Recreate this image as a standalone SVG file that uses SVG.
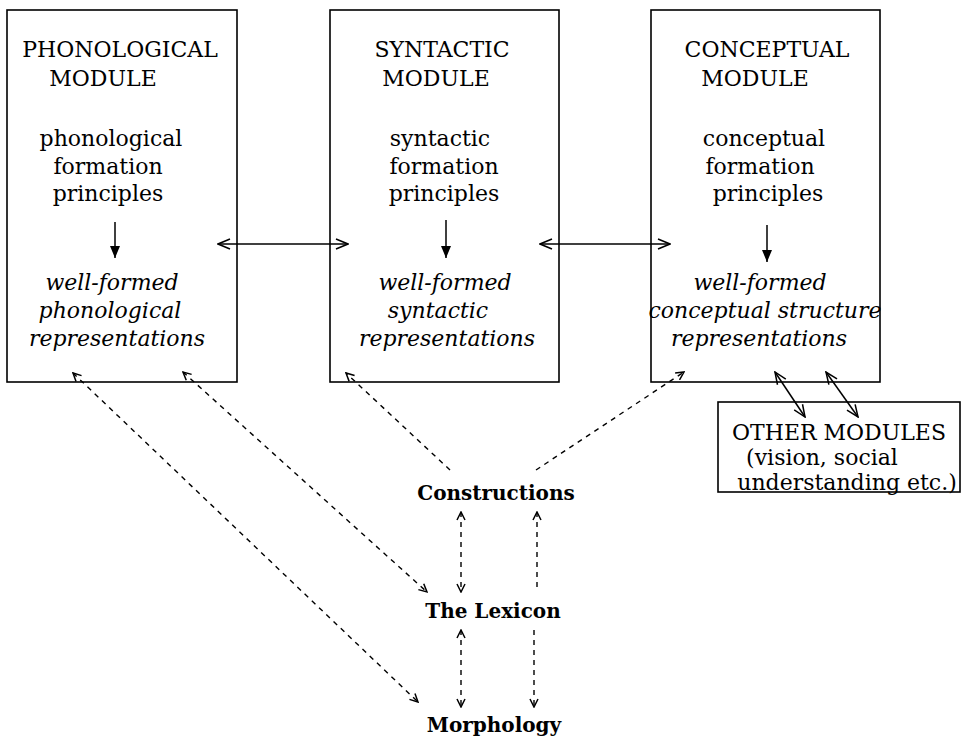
<svg xmlns="http://www.w3.org/2000/svg" width="962" height="743" viewBox="0 0 962 743">
<style>
.box{fill:#fff;stroke:#000;stroke-width:1.6}
.t{font-family:"DejaVu Serif","Liberation Serif",serif;font-size:22px;fill:#000;text-anchor:middle}
.i{font-style:italic}
.b{font-family:"DejaVu Serif","Liberation Serif",serif;font-size:20px;font-weight:bold;fill:#000;text-anchor:middle}
.s{fill:none;stroke:#000;stroke-width:1.5}
.d{fill:none;stroke:#000;stroke-width:1.4;stroke-dasharray:5,5}
</style>
<defs>
<marker id="oa" viewBox="0 0 14 12" refX="13" refY="6" markerWidth="14" markerHeight="12" markerUnits="userSpaceOnUse" orient="auto-start-reverse">
<path d="M1,1 L13,6 L1,11" fill="none" stroke="#000" stroke-width="1.5"/>
</marker>
<marker id="da" viewBox="0 0 10 10" refX="9" refY="5" markerWidth="10" markerHeight="10" markerUnits="userSpaceOnUse" orient="auto-start-reverse">
<path d="M1,1 L9,5 L1,9" fill="none" stroke="#000" stroke-width="1.5"/>
</marker>
<marker id="ft" viewBox="0 0 12 10" refX="12" refY="5" markerWidth="12" markerHeight="10" markerUnits="userSpaceOnUse" orient="auto">
<path d="M0,0 L12,5 L0,10 Z" fill="#000"/>
</marker>
</defs>

<g id="phonological">
<rect class="box" x="7" y="10" width="230" height="372"/>
<text class="t" x="120" y="57">PHONOLOGICAL</text>
<text class="t" x="103" y="86">MODULE</text>
<text class="t" x="111" y="146">phonological</text>
<text class="t" x="108" y="174">formation</text>
<text class="t" x="108" y="201">principles</text>
<text class="t i" x="112" y="290">well-formed</text>
<text class="t i" x="110" y="318">phonological</text>
<text class="t i" x="117" y="346">representations</text>
</g>

<g id="syntactic">
<rect class="box" x="330" y="10" width="229" height="372"/>
<text class="t" x="442" y="57">SYNTACTIC</text>
<text class="t" x="436" y="86">MODULE</text>
<text class="t" x="440" y="146">syntactic</text>
<text class="t" x="444" y="174">formation</text>
<text class="t" x="444" y="201">principles</text>
<text class="t i" x="445" y="290">well-formed</text>
<text class="t i" x="438" y="318">syntactic</text>
<text class="t i" x="447" y="346">representations</text>
</g>

<g id="conceptual">
<rect class="box" x="651" y="10" width="229" height="372"/>
<text class="t" x="767" y="57">CONCEPTUAL</text>
<text class="t" x="755" y="86">MODULE</text>
<text class="t" x="764" y="146">conceptual</text>
<text class="t" x="760" y="174">formation</text>
<text class="t" x="768" y="201">principles</text>
<text class="t i" x="760" y="290">well-formed</text>
<text class="t i" x="765" y="318">conceptual structure</text>
<text class="t i" x="759" y="346">representations</text>
</g>

<g id="other">
<rect class="box" x="718" y="402" width="242" height="90"/>
<text class="t" x="839" y="440">OTHER MODULES</text>
<text class="t" x="822" y="465">(vision, social</text>
<text class="t" x="847" y="490">understanding etc.)</text>
</g>

<g id="constructions"><text class="b" x="496" y="500">Constructions</text></g>
<g id="lexicon"><text class="b" x="493" y="618">The Lexicon</text></g>
<g id="morphology"><text class="b" x="494" y="732">Morphology</text></g>

<g id="connectors">
<line class="s" x1="115" y1="222" x2="115" y2="258" marker-end="url(#ft)"/>
<line class="s" x1="446" y1="220" x2="446" y2="258" marker-end="url(#ft)"/>
<line class="s" x1="767" y1="225" x2="767" y2="262" marker-end="url(#ft)"/>
<line class="s" x1="218" y1="244" x2="348" y2="244" marker-start="url(#oa)" marker-end="url(#oa)"/>
<line class="s" x1="540" y1="244" x2="670" y2="244" marker-start="url(#oa)" marker-end="url(#oa)"/>
<line class="s" x1="775" y1="372" x2="805" y2="417" marker-start="url(#oa)" marker-end="url(#oa)"/>
<line class="s" x1="826" y1="372" x2="858" y2="417" marker-start="url(#oa)" marker-end="url(#oa)"/>
<line class="d" x1="450" y1="470" x2="346" y2="373" marker-end="url(#da)"/>
<line class="d" x1="536" y1="470" x2="684" y2="372" marker-end="url(#da)"/>
<line class="d" x1="183" y1="372" x2="427" y2="592" marker-start="url(#da)" marker-end="url(#da)"/>
<line class="d" x1="73" y1="373" x2="418" y2="702" marker-start="url(#da)" marker-end="url(#da)"/>
<line class="d" x1="461" y1="512" x2="461" y2="592" marker-start="url(#da)" marker-end="url(#da)"/>
<line class="d" x1="537" y1="512" x2="537" y2="592" marker-start="url(#da)"/>
<line class="d" x1="461" y1="630" x2="461" y2="707" marker-start="url(#da)" marker-end="url(#da)"/>
<line class="d" x1="534" y1="630" x2="534" y2="707" marker-end="url(#da)"/>
</g>
</svg>
